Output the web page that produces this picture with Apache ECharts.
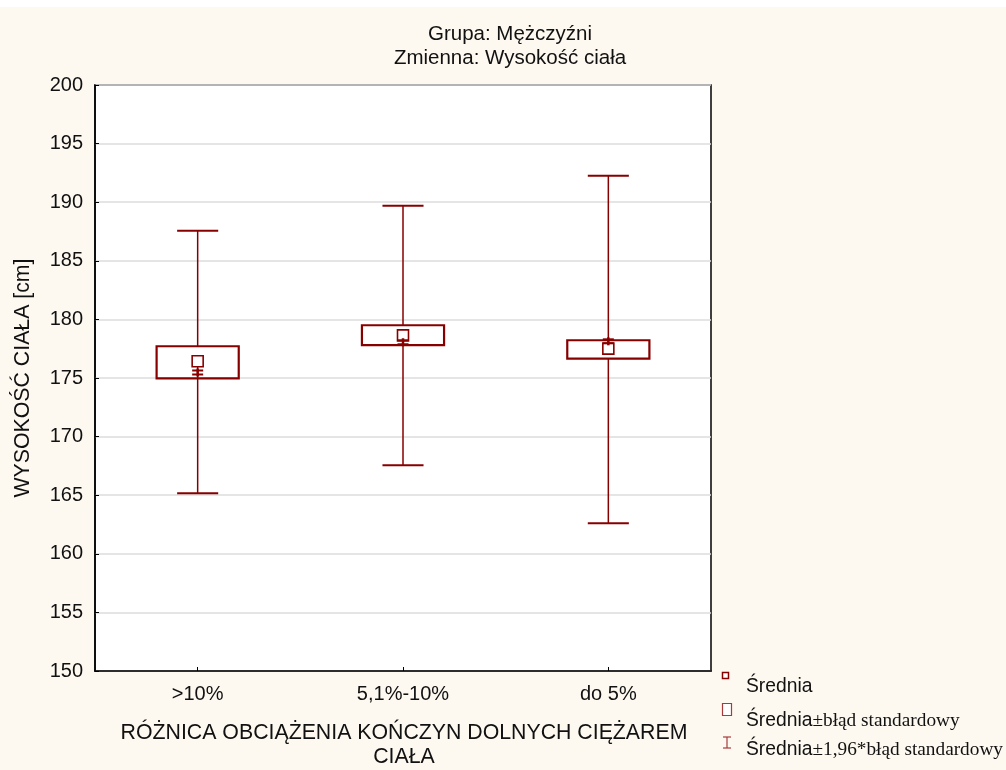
<!DOCTYPE html>
<html>
<head>
<meta charset="utf-8">
<script src="https://cdn.jsdelivr.net/npm/echarts@6/dist/echarts.min.js"></script>
<style>
html,body{margin:0;padding:0;background:#fdf9f0;}
#chart{width:1006px;height:770px;}
</style>
</head>
<body>
<div id="chart"></div>
<script>
// ---- data ----
var categories = ['>10%', '5,1%-10%', 'do 5%'];
var means      = [176.43, 178.64, 177.51];   // Średnia (square marker)
var seLow      = [174.96, 177.80, 176.66];   // Średnia - błąd standardowy
var seHigh     = [177.71, 179.50, 178.22];   // Średnia + błąd standardowy
var ciLow      = [165.16, 167.55, 162.61];   // Średnia - 1,96*błąd standardowy
var ciHigh     = [187.56, 189.69, 192.25];   // Średnia + 1,96*błąd standardowy
var crossMarks = [175.47, 178.05, 178.13];   // small cross marks on whisker stem
var yTicks     = [150, 155, 160, 165, 170, 175, 180, 185, 190, 195, 200];

var RED = '#870000';
var SANS = "'Liberation Sans', Arial, sans-serif";
var SERIF = "'Liberation Serif', 'Times New Roman', serif";

var seriesData = categories.map(function (c, i) {
  return [i, means[i], seLow[i], seHigh[i], ciLow[i], ciHigh[i], crossMarks[i]];
});

function renderItem(params, api) {
  var idx = api.value(0);
  var x = api.coord([idx, api.value(1)])[0];
  var yMean = api.coord([idx, api.value(1)])[1];
  var ySeLo = api.coord([idx, api.value(2)])[1];
  var ySeHi = api.coord([idx, api.value(3)])[1];
  var yCiLo = api.coord([idx, api.value(4)])[1];
  var yCiHi = api.coord([idx, api.value(5)])[1];
  var yCross = api.coord([idx, api.value(6)])[1];
  var band = api.size([1, 0])[0];
  var bw = band * 0.4;
  var cw = band * 0.2;
  var sq = 11;
  var children = [];
  var ls = {stroke: RED, lineWidth: 1.5};
  children.push({type: 'line', shape: {x1: x, y1: yCiHi, x2: x, y2: ySeHi}, style: ls});
  children.push({type: 'line', shape: {x1: x, y1: ySeLo, x2: x, y2: yCiLo}, style: ls});
  children.push({type: 'line', shape: {x1: x - cw / 2, y1: yCiHi, x2: x + cw / 2, y2: yCiHi}, style: {stroke: RED, lineWidth: 2}});
  children.push({type: 'line', shape: {x1: x - cw / 2, y1: yCiLo, x2: x + cw / 2, y2: yCiLo}, style: {stroke: RED, lineWidth: 2}});
  children.push({type: 'rect', shape: {x: x - bw / 2, y: ySeHi, width: bw, height: ySeLo - ySeHi},
    style: {stroke: RED, lineWidth: 2.2, fill: 'rgba(0,0,0,0)'}});
  var stemFrom, stemTo;
  if (yCross > yMean) { stemFrom = yMean + sq / 2; stemTo = ySeLo; }
  else { stemFrom = yMean - sq / 2; stemTo = ySeHi; }
  children.push({type: 'line', shape: {x1: x, y1: stemFrom, x2: x, y2: stemTo}, style: ls});
  children.push({type: 'rect', shape: {x: x - sq / 2, y: yMean - sq / 2, width: sq, height: sq},
    style: {stroke: RED, lineWidth: 1.6, fill: '#ffffff'}});
  children.push({type: 'line', shape: {x1: x - 5.5, y1: yCross - 2, x2: x + 5.5, y2: yCross - 2}, style: {stroke: RED, lineWidth: 2}});
  children.push({type: 'line', shape: {x1: x - 5.5, y1: yCross + 2, x2: x + 5.5, y2: yCross + 2}, style: {stroke: RED, lineWidth: 2}});
  children.push({type: 'line', shape: {x1: x, y1: yCross - 4, x2: x, y2: yCross + 4}, style: {stroke: RED, lineWidth: 2.5}});
  return {type: 'group', children: children};
}

var chart = echarts.init(document.getElementById('chart'), null, {renderer: 'canvas'});
var option = {
  backgroundColor: '#fdf9f0',
  animation: false,
  grid: {left: 95, top: 85, right: 295, bottom: 99, show: true, backgroundColor: '#ffffff',
    borderColor: '#000000', borderWidth: 1.5},
  xAxis: {
    type: 'category', data: categories, boundaryGap: true,
    axisLine: {show: true, lineStyle: {color: '#000', width: 1.5}},
    axisTick: {show: true, inside: true, length: 4, alignWithLabel: true, lineStyle: {color: '#000'}},
    axisLabel: {fontFamily: SANS, fontSize: 20, color: '#111', margin: 13},
    splitLine: {show: false}
  },
  yAxis: {
    type: 'value', min: yTicks[0], max: yTicks[yTicks.length - 1], interval: yTicks[1] - yTicks[0],
    axisLine: {show: true, lineStyle: {color: '#000', width: 1.5}},
    axisTick: {show: true, inside: true, length: 4, lineStyle: {color: '#000'}},
    axisLabel: {fontFamily: SANS, fontSize: 20, color: '#111', margin: 12},
    splitLine: {show: true, lineStyle: {color: '#dddddd', width: 1.5}}
  },
  series: [{
    type: 'custom', data: seriesData, renderItem: renderItem,
    encode: {x: 0, y: [1, 2, 3, 4, 5, 6]}, z: 5
  }],
  graphic: [
    {type: 'rect', left: 0, top: 0, shape: {width: 1006, height: 7}, style: {fill: '#ffffff'}, z: -1, silent: true},
    {type: 'text', x: 510, y: 34, style: {text: 'Grupa: Mężczyźni', font: '20.5px ' + SANS, fill: '#111', textAlign: 'center', textVerticalAlign: 'middle'}},
    {type: 'text', x: 510, y: 58, style: {text: 'Zmienna: Wysokość ciała', font: '20.5px ' + SANS, fill: '#111', textAlign: 'center', textVerticalAlign: 'middle'}},
    {type: 'text', x: 404, y: 733, style: {text: 'RÓŻNICA OBCIĄŻENIA KOŃCZYN DOLNYCH CIĘŻAREM', font: '21.3px ' + SANS, fill: '#111', textAlign: 'center', textVerticalAlign: 'middle'}},
    {type: 'text', x: 404, y: 757, style: {text: 'CIAŁA', font: '21.3px ' + SANS, fill: '#111', textAlign: 'center', textVerticalAlign: 'middle'}},
    {type: 'text', x: 23, y: 378, rotation: Math.PI / 2, style: {text: 'WYSOKOŚĆ CIAŁA [cm]', font: '21.3px ' + SANS, fill: '#111', textAlign: 'center', textVerticalAlign: 'middle'}},
    // legend
    {type: 'rect', shape: {x: 722.5, y: 672.5, width: 6, height: 6}, style: {stroke: RED, lineWidth: 1.5, fill: '#fff'}},
    {type: 'text', x: 746, y: 687, style: {text: 'Średnia', font: '19.3px ' + SANS, fill: '#111', textVerticalAlign: 'middle'}},
    {type: 'rect', shape: {x: 722.5, y: 703.5, width: 9, height: 12}, style: {stroke: '#a83a3a', lineWidth: 1.2, fill: '#fff'}},
    {type: 'text', x: 746, y: 721, style: {
      text: '{a|Średnia}{b|±błąd standardowy}', textVerticalAlign: 'middle',
      rich: {a: {fontFamily: SANS, fontSize: 19.3, fill: '#111', color: '#111'}, b: {fontFamily: SERIF, fontSize: 19.3, fill: '#111', color: '#111'}}}},
    {type: 'line', shape: {x1: 727, y1: 737, x2: 727, y2: 748}, style: {stroke: '#a83a3a', lineWidth: 1.2}},
    {type: 'line', shape: {x1: 723, y1: 737, x2: 731, y2: 737}, style: {stroke: '#a83a3a', lineWidth: 1.2}},
    {type: 'line', shape: {x1: 723, y1: 748, x2: 731, y2: 748}, style: {stroke: '#a83a3a', lineWidth: 1.2}},
    {type: 'text', x: 746, y: 750, style: {
      text: '{a|Średnia}{b|±1,96*błąd standardowy}', textVerticalAlign: 'middle',
      rich: {a: {fontFamily: SANS, fontSize: 19.3, fill: '#111', color: '#111'}, b: {fontFamily: SERIF, fontSize: 19.3, fill: '#111', color: '#111'}}}}
  ]
};
chart.setOption(option);
</script>
</body>
</html>
